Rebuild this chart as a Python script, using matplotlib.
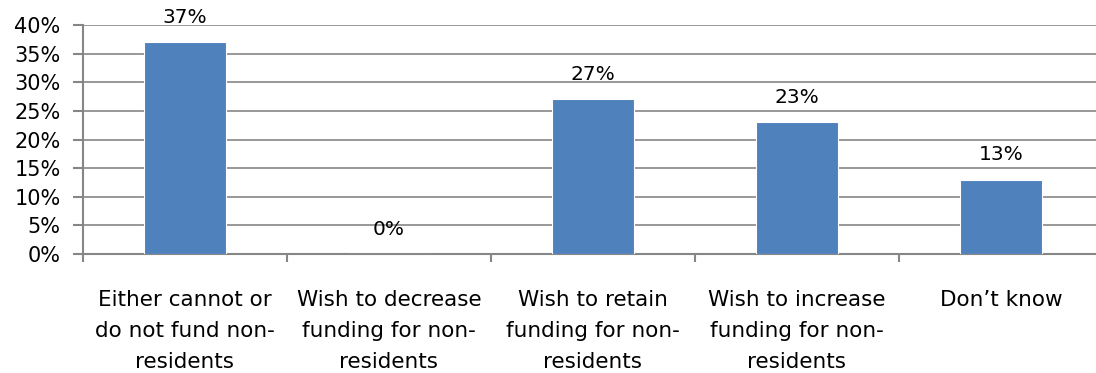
import matplotlib.pyplot as plt
from matplotlib.ticker import FixedLocator, PercentFormatter

# survey responses on funding of non-residents
categories = [
    "Either cannot or\ndo not fund non-\nresidents",
    "Wish to decrease\nfunding for non-\nresidents",
    "Wish to retain\nfunding for non-\nresidents",
    "Wish to increase\nfunding for non-\nresidents",
    "Don\u2019t know",
]
shares = [37, 0, 27, 23, 13]   # percent of respondents

plt.rcParams["font.family"] = "DejaVu Sans"
grey = "#868686"

fig = plt.figure(figsize=(10.96, 3.73), dpi=100)
ax = fig.add_axes([0.0757, 0.319, 1020 / 1096, 0.614])

x = list(range(len(categories)))
bars = ax.bar(x, shares, width=0.4, color="#4f81bd", edgecolor="white",
              linewidth=0.8, zorder=3)

for b, v in zip(bars, shares):
    ax.annotate(f"{v}%", (b.get_x() + b.get_width() / 2, v),
                xytext=(0, 18), textcoords="offset points",
                ha="center", va="center", fontsize=14.5, zorder=4)

ax.set_xlim(-0.5, len(categories) - 0.5)
ax.set_ylim(0, 40)
ax.set_yticks(range(0, 41, 5))
ax.yaxis.set_major_formatter(PercentFormatter(decimals=0))
ax.grid(axis="y", color=grey, linewidth=1.2, zorder=0)

# category labels at bar centres, tick marks on the category boundaries
ax.set_xticks(x)
ax.set_xticklabels(categories, fontsize=15.5, linespacing=1.68)
ax.tick_params(axis="x", which="major", length=0, pad=26)
ax.xaxis.set_minor_locator(FixedLocator([i - 0.5 for i in range(len(categories) + 1)]))
ax.tick_params(axis="x", which="minor", length=6, width=1.5, color=grey)
ax.tick_params(axis="y", length=7, width=1.5, color=grey, labelsize=15, pad=9)

for side in ("top", "right"):
    ax.spines[side].set_visible(False)
for side in ("left", "bottom"):
    ax.spines[side].set_color(grey)
    ax.spines[side].set_linewidth(1.5)

fig.savefig("out.png", dpi=100)
